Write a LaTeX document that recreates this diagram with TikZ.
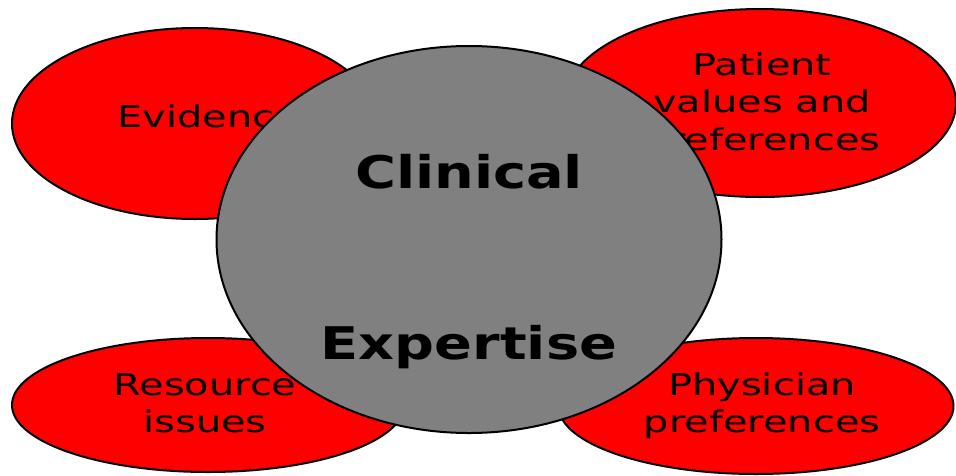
\documentclass[tikz,border=0pt]{standalone}
\usepackage{fontspec}
\usetikzlibrary{shapes.geometric}
\newfontfamily\lblfont[FakeStretch=1.33]{DejaVu Sans}
\newfontfamily\clinfont[FakeStretch=1.24]{DejaVu Sans}
\definecolor{blobred}{RGB}{255,0,0}
\definecolor{blobgray}{RGB}{128,128,128}
\begin{document}
\begin{tikzpicture}[x=1pt,y=-1pt,
  redblob/.style={ellipse,draw=black,line width=2pt,fill=blobred,inner sep=0pt,outer sep=0pt},
  grayblob/.style={ellipse,draw=black,line width=2pt,fill=blobgray,inner sep=0pt,outer sep=0pt},
  lbl/.style={anchor=base,inner sep=0pt,font=\lblfont\fontsize{30}{37.5}\selectfont,text=black},
  big/.style={anchor=base,inner sep=0pt,font=\clinfont\bfseries\fontsize{45}{54}\selectfont,text=black}]
\useasboundingbox (0,0) rectangle (956,475);
% outer red ellipses
\node[redblob,minimum width=366pt,minimum height=191pt] (ev) at (195,123.5) {};
\node[lbl] (evt) at (208,127) {Evidence};
\node[redblob,minimum width=392pt,minimum height=188pt] (pv) at (760,103) {};
\node[lbl] (pv1) at (762,75) {Patient};
\node[lbl] (pv2) at (762,112) {values and};
\node[lbl] (pv3) at (762,150) {preferences};
\node[redblob,minimum width=392pt,minimum height=134pt] (ri) at (208,405) {};
\node[lbl] (ri1) at (205,395) {Resource};
\node[lbl] (ri2) at (205,432) {issues};
\node[redblob,minimum width=395pt,minimum height=136pt] (pp) at (756,406) {};
\node[lbl] (pp1) at (762,395) {Physician};
\node[lbl] (pp2) at (762,432) {preferences};
% central gray ellipse
\node[grayblob,minimum width=505pt,minimum height=387pt] (ce) at (469,239.5) {};
\node[big] (ce1) at (469,188) {Clinical};
\node[big] (ce2) at (469,359) {Expertise};
\end{tikzpicture}
\end{document}
